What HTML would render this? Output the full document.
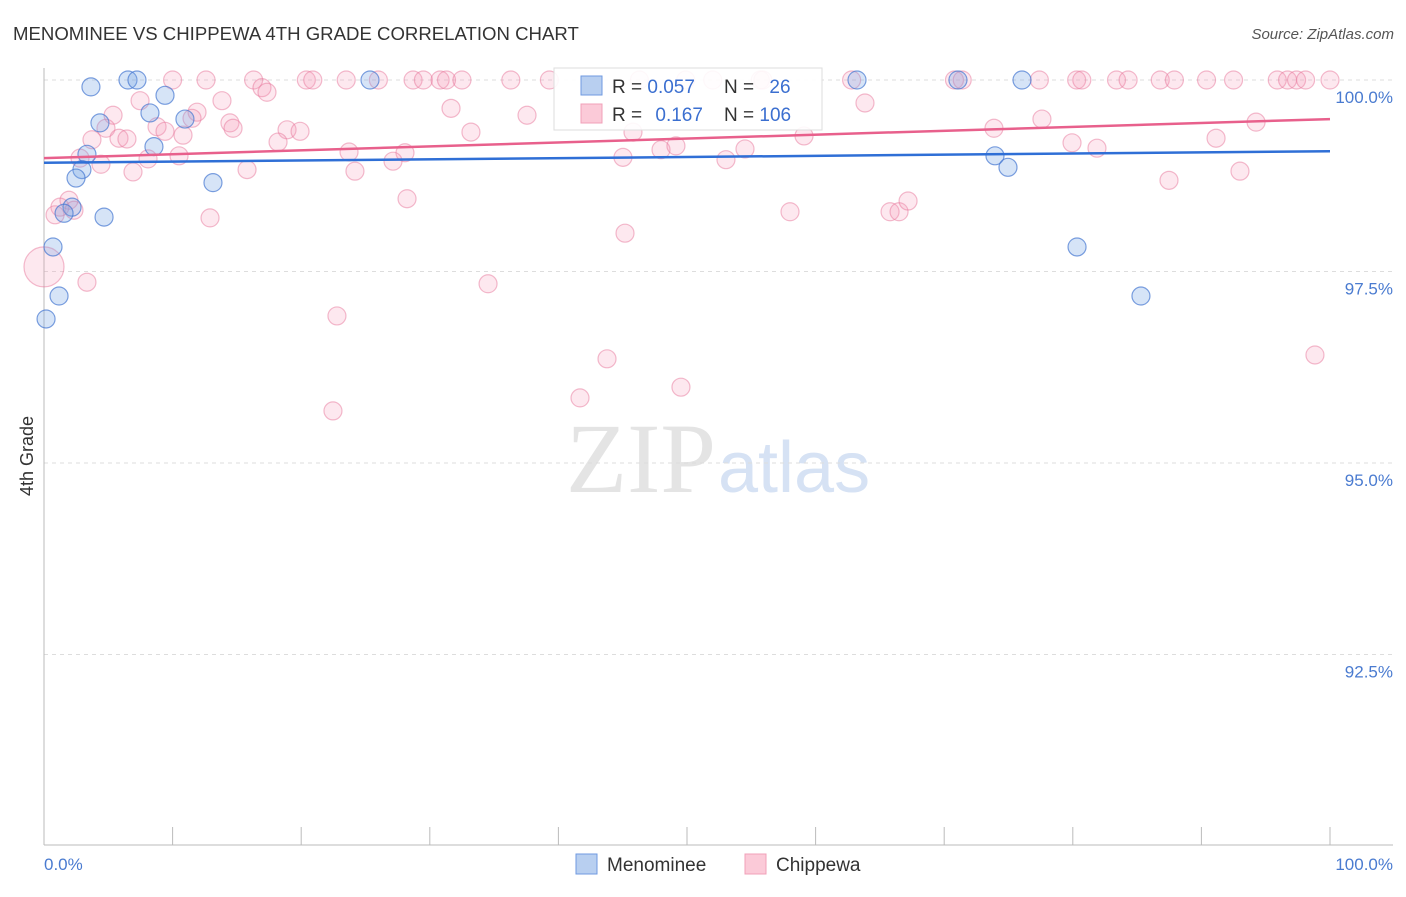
<!DOCTYPE html>
<html><head><meta charset="utf-8"><style>
body{margin:0;background:#fff;font-family:"Liberation Sans",sans-serif}
</style></head><body>
<svg id="c" width="1406" height="892" xmlns="http://www.w3.org/2000/svg">
<text x="13" y="40" font-size="18.6" fill="#333">MENOMINEE VS CHIPPEWA 4TH GRADE CORRELATION CHART</text>
<text x="1394" y="39" font-size="15" fill="#555" font-style="italic" text-anchor="end">Source: ZipAtlas.com</text>
<text x="33" y="456" font-size="18" fill="#333" text-anchor="middle" transform="rotate(-90 33 456)">4th Grade</text>
<text x="716" y="492" font-size="100" fill="#e4e4e4" text-anchor="end" font-family="Liberation Serif,serif">ZIP</text>
<text x="718" y="492" font-size="72" fill="#d6e2f4">atlas</text>
<g id="grid"></g><g id="pts"></g><g id="lines"></g>
<g>
<rect x="554" y="68" width="268" height="62" fill="#fff" fill-opacity="0.9" stroke="#ddd"/>
<rect x="581" y="76" width="21" height="19" fill="#b8cff0" stroke="#6f9ae0"/>
<rect x="581" y="104" width="21" height="19" fill="#fbcad8" stroke="#f0a0b8"/>
<text x="612" y="93" font-size="19" fill="#333">R = <tspan fill="#3b6fd0">0.057</tspan></text>
<text x="724" y="93" font-size="19" fill="#333">N = <tspan fill="#3b6fd0" dx="10">26</tspan></text>
<text x="612" y="121" font-size="19" fill="#333">R = <tspan fill="#3b6fd0" dx="8">0.167</tspan></text>
<text x="724" y="121" font-size="19" fill="#333">N = <tspan fill="#3b6fd0">106</tspan></text>
</g>
<g>
<rect x="576" y="854" width="21" height="20" fill="#b8cff0" stroke="#6f9ae0"/>
<text x="607" y="871" font-size="19" fill="#333">Menominee</text>
<rect x="745" y="854" width="21" height="20" fill="#fbcad8" stroke="#f0a0b8"/>
<text x="776" y="871" font-size="19" fill="#333">Chippewa</text>
</g>
</svg>
<script>
const yTicks=[100,97.5,95,92.5];
const yTickLabels=["100.0%","97.5%","95.0%","92.5%"];
const xTickLabels=["0.0%","100.0%"];
const blueX=[3.65,6.53,7.23,9.41,8.24,4.35,10.96,8.55,3.34,2.95,2.49,2.18,1.56,4.67,13.14,0.70,1.17,0.16,25.35,63.22,71.07,76.05,73.95,74.96,80.33,85.30];
const blueY=[99.91,100,100,99.80,99.57,99.44,99.49,99.13,99.03,98.83,98.72,98.34,98.26,98.21,98.66,97.82,97.18,96.88,100,100,100,100,99.01,98.86,97.82,97.18];
const pinkTopX=[10.0,12.6,16.3,20.4,20.9,23.5,26.0,28.7,29.5,30.8,31.3,32.5,36.3,39.3,46.3,52.0,55.7,62.8,70.8,71.4,77.4,80.3,80.7,83.4,84.3,86.8,87.9,90.4,92.5,95.9,96.7,97.4,98.1,100.0,49.9,55.9];
const pinkX=[16.95,17.34,7.47,13.84,5.37,11.90,11.51,14.46,14.70,8.79,9.41,4.82,5.83,6.45,10.81,3.73,18.90,19.91,18.20,31.65,33.20,37.56,45.80,63.84,73.87,77.60,91.14,94.25,81.88,79.94,2.80,4.43,8.09,10.50,23.72,28.07,27.14,24.18,15.79,6.92,45.02,47.98,49.14,54.51,53.03,59.10,87.48,93.00,1.94,1.24,0.86,2.33,12.91,28.23,58.01,65.79,66.49,67.19,45.18,3.34,34.53,22.78,43.78,41.68,22.47,49.53,98.83];
const pinkY=[99.90,99.84,99.73,99.73,99.54,99.58,99.50,99.44,99.37,99.39,99.33,99.37,99.24,99.23,99.28,99.22,99.35,99.33,99.19,99.63,99.32,99.54,99.32,99.70,99.37,99.49,99.24,99.45,99.11,99.18,98.98,98.90,98.97,99.01,99.06,99.05,98.94,98.81,98.83,98.80,98.99,99.09,99.14,99.10,98.96,99.27,98.69,98.81,98.43,98.34,98.24,98.30,98.20,98.45,98.28,98.28,98.28,98.42,98.00,97.36,97.34,96.92,96.36,95.85,95.68,95.99,96.41];
const bigPink=[0,97.56];
const blueTrend=[98.92,99.07];
const pinkTrend=[98.98,99.49];
const sx=v=>44+v*12.86, sy=v=>80+(100-v)*76.6;
const NS="http://www.w3.org/2000/svg";
function mk(tag,attrs,parent){const e=document.createElementNS(NS,tag);for(const k in attrs)e.setAttribute(k,attrs[k]);parent.appendChild(e);return e;}
const grid=document.getElementById('grid'),pts=document.getElementById('pts'),lines=document.getElementById('lines');
yTicks.forEach((t,i)=>{
 const l=mk('line',{x1:44,x2:1393,y1:sy(t),y2:sy(t),stroke:'#ddd','stroke-dasharray':'4,4'},grid);
 
 
 const tx=mk('text',{x:1393,y:sy(t)+23,'font-size':17,fill:'#4a7bd0','text-anchor':'end'},grid);
 tx.textContent=yTickLabels[i];
 
 
});
const ax=mk('line',{x1:44,x2:44,y1:68,y2:845,stroke:'#bbb'},grid);


const bx=mk('line',{x1:44,x2:1393,y1:845,y2:845,stroke:'#bbb'},grid);


for(let k=0;k<=10;k++){
 const t=mk('line',{x1:sx(k*10),x2:sx(k*10),y1:827,y2:845,stroke:'#bbb'},grid);
 
 
}
[[0,'start',44],[100,'end',1393]].forEach((d,i)=>{
 const tx=mk('text',{x:d[2],y:870,'font-size':17,fill:'#4a7bd0','text-anchor':d[1]},grid);
 tx.textContent=xTickLabels[i];
 
 
});
function dot(x,y,r,pink){
 const c=mk('circle',{cx:sx(x),cy:sy(y),r:r,fill:pink?'rgba(244,150,180,0.22)':'rgba(120,165,230,0.3)',stroke:pink?'rgba(232,120,155,0.5)':'rgba(70,120,210,0.7)','stroke-width':1.2},pts);
 
 
}
pinkTopX.forEach(x=>dot(x,100,9,true));
pinkX.forEach((x,i)=>dot(x,pinkY[i],9,true));
dot(bigPink[0],bigPink[1],20,true);
blueX.forEach((x,i)=>dot(x,blueY[i],9,false));
const bl=mk('line',{x1:sx(0),x2:sx(100),y1:sy(blueTrend[0]),y2:sy(blueTrend[1]),stroke:'#2f6fd6','stroke-width':2.5},lines);


const pl=mk('line',{x1:sx(0),x2:sx(100),y1:sy(pinkTrend[0]),y2:sy(pinkTrend[1]),stroke:'#e8608c','stroke-width':2.5},lines);


</script>
</body></html>
